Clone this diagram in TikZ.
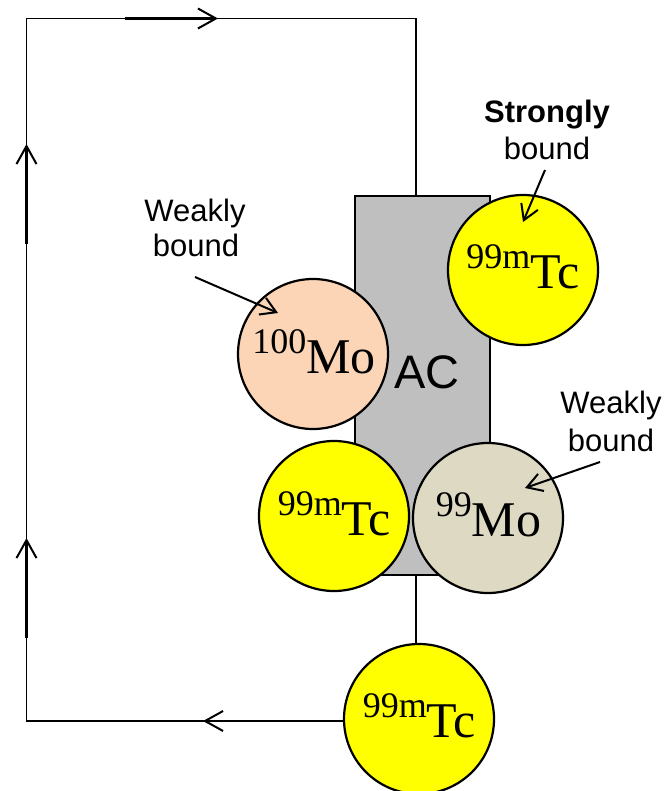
\documentclass[tikz,border=0pt]{standalone}
\usepackage{fontspec}
\setmainfont{Liberation Serif}
\newfontfamily\arialfont{Liberation Sans}
\usetikzlibrary{arrows.meta}
\definecolor{peach}{RGB}{251,213,181}
\definecolor{moninety}{RGB}{221,217,195}
\definecolor{acgray}{RGB}{191,191,191}
\definecolor{tcyellow}{RGB}{255,255,0}
\newcommand{\isotope}[2]{{\fontsize{36}{36}\selectfont\raisebox{20pt}{#1}}{\fontsize{50}{50}\selectfont #2}}
\tikzset{
  ball/.style={circle, draw=black, line width=2.2pt, minimum size=150pt, inner sep=0pt},
  isotext/.style={anchor=base, inner sep=0pt},
  lbl/.style={anchor=base, inner sep=0pt, font=\arialfont\fontsize{31}{37}\selectfont},
  loopline/.style={line width=1.5pt},
  flowarrow/.style={line width=2.8pt, -{Straight Barb[length=18pt,width=20pt,line width=2pt]}},
  ptr/.style={line width=2pt, -{Straight Barb[length=15pt,width=18pt]}}
}
\begin{document}
\begin{tikzpicture}[x=1pt,y=-1pt]
\useasboundingbox (0,0) rectangle (666,791);
% adsorbent column
\node[draw=black, fill=acgray, line width=2pt, minimum width=135pt, minimum height=379pt, anchor=north west, inner sep=0pt] (ac) at (354,195) {};
\node[anchor=base, inner sep=0pt, font=\arialfont\fontsize{47}{47}\selectfont] (actext) at (427,388) {AC};
% loop
\coordinate (tr) at (416,18.5);
\coordinate (tl) at (26.5,18.5);
\coordinate (bl) at (26.5,721);
% balls
\node[ball, fill=peach] (mo100) at (313,354) {};
\node[ball, fill=tcyellow] (tctop) at (523,270) {};
\node[ball, fill=tcyellow] (tcmid) at (334,516) {};
\node[ball, fill=moninety] (mo99) at (488,518) {};
\node[ball, fill=tcyellow] (tcbot) at (419,719) {};
\draw[loopline] (ac.north -| tr) -- (tr) -- (tl) -- (bl) -- (bl -| tcbot.west);
\draw[loopline] (ac.south -| tr) -- (tcbot.north -| tr);
% flow arrows
\coordinate (a1s) at (125,18.5); \coordinate (a1e) at (218,18.5);
\coordinate (a2s) at (26.5,244); \coordinate (a2e) at (26.5,144);
\coordinate (a3s) at (26.5,638); \coordinate (a3e) at (26.5,538);
\coordinate (a4s) at (303,721); \coordinate (a4e) at (203,721);
\draw[flowarrow] (a1s) -- (a1e);
\draw[flowarrow] (a2s) -- (a2e);
\draw[flowarrow] (a3s) -- (a3e);
\draw[flowarrow] (a4s) -- (a4e);
% isotope labels
\node[isotext] (t100mo) at (314,373) {\isotope{100}{Mo}};
\node[isotext] (ttctop) at (523,288) {\isotope{99m}{Tc}};
\node[isotext] (ttcmid) at (334.5,535) {\isotope{99m}{Tc}};
\node[isotext] (t99mo) at (488.5,536) {\isotope{99}{Mo}};
\node[isotext] (ttcbot) at (419.5,737) {\isotope{99m}{Tc}};
% text labels
\node[lbl, font=\arialfont\bfseries\fontsize{31}{37}\selectfont] (strong1) at (547,123) {Strongly};
\node[lbl] (strong2) at (547,160) {bound};
\node[lbl] (weakl1) at (195,222) {Weakly};
\node[lbl] (weakl2) at (196,257) {bound};
\node[lbl] (weakr1) at (611,413) {Weakly};
\node[lbl] (weakr2) at (611,451) {bound};
% pointers
\coordinate (p1s) at (545,170); \coordinate (p1e) at (523,222);
\coordinate (p2s) at (195,277); \coordinate (p2e) at (278,313);
\coordinate (p3s) at (600,462); \coordinate (p3e) at (525,488);
\draw[ptr] (p1s) -- (p1e);
\draw[ptr] (p2s) -- (p2e);
\draw[ptr] (p3s) -- (p3e);
\end{tikzpicture}
\end{document}
